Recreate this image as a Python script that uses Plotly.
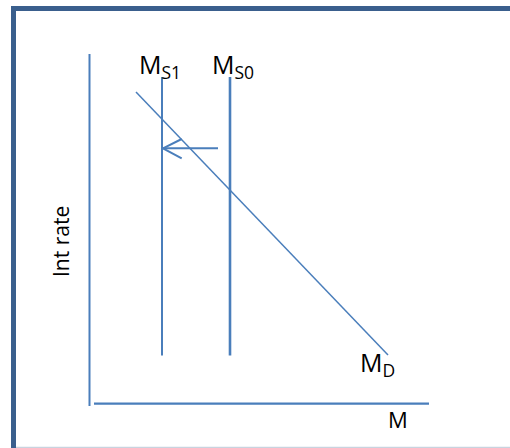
import plotly.graph_objects as go

# Diagram data (money-market model), origin at the axes corner
ms1_x = [72, 72]
ms1_y = [48.5, 327]
ms0_x = [140, 140]
ms0_y = [48.5, 327]
md_x = [46, 298]
md_y = [312, 49]
yaxis_x = [-0.5, -0.5]
yaxis_y = [-2, 350]
xaxis_x = [4, 339]
xaxis_y = [0.3, 0.3]
arrow_x = [128, 73]
arrow_y = [255.7, 255.7]
head_x = [91.7, 73, 91.7]
head_y = [265, 255.7, 245.7]

BLUE = "#4A7EBB"
FONT = "Open Sans"

fig = go.Figure()

def seg(x, y, w):
    fig.add_trace(go.Scatter(x=x, y=y, mode="lines",
                             line=dict(color=BLUE, width=w),
                             hoverinfo="skip", showlegend=False))

seg(yaxis_x, yaxis_y, 2)
seg(xaxis_x, xaxis_y, 2.2)
seg(ms1_x, ms1_y, 2)
seg(ms0_x, ms0_y, 2.6)
seg(md_x, md_y, 1.5)
seg(arrow_x, arrow_y, 2)
seg(head_x, head_y, 2)

labels = [
    ("M<sub>S1</sub>", 47, 339, 25),
    ("M<sub>S0</sub>", 119.5, 339, 25),
    ("M<sub>D</sub>", 267.5, 41, 25),
    ("M", 296, -15, 22),
]
for txt, x, y, size in labels:
    fig.add_annotation(x=x, y=y, text=txt, showarrow=False,
                       xanchor="left", yanchor="middle",
                       font=dict(family=FONT, size=size, color="#000000"))

fig.add_annotation(x=-29, y=162, text="Int rate", showarrow=False,
                   textangle=-90, xanchor="center", yanchor="middle",
                   font=dict(family=FONT, size=21, color="#000000"))

# Frame
fig.add_shape(type="rect", xref="paper", yref="paper",
              x0=13.5 / 510, x1=530 / 510, y0=-20 / 448, y1=1 - 8.5 / 448,
              line=dict(color="#3A5F8D", width=5))
fig.add_shape(type="line", xref="paper", yref="paper",
              x0=16 / 510, x1=1, y0=0.5 / 448, y1=0.5 / 448,
              line=dict(color="#C9D3DF", width=1.5))

fig.update_layout(
    width=510, height=448, autosize=False,
    margin=dict(l=0, r=0, t=0, b=0),
    paper_bgcolor="white", plot_bgcolor="white",
    xaxis=dict(range=[-90, 420], visible=False, fixedrange=True),
    yaxis=dict(range=[-44, 404], visible=False, fixedrange=True),
)

fig.write_html("out.html",
               config={"displayModeBar": False, "staticPlot": True},
               post_script="document.body.style.margin='0';document.body.style.overflow='hidden';")
